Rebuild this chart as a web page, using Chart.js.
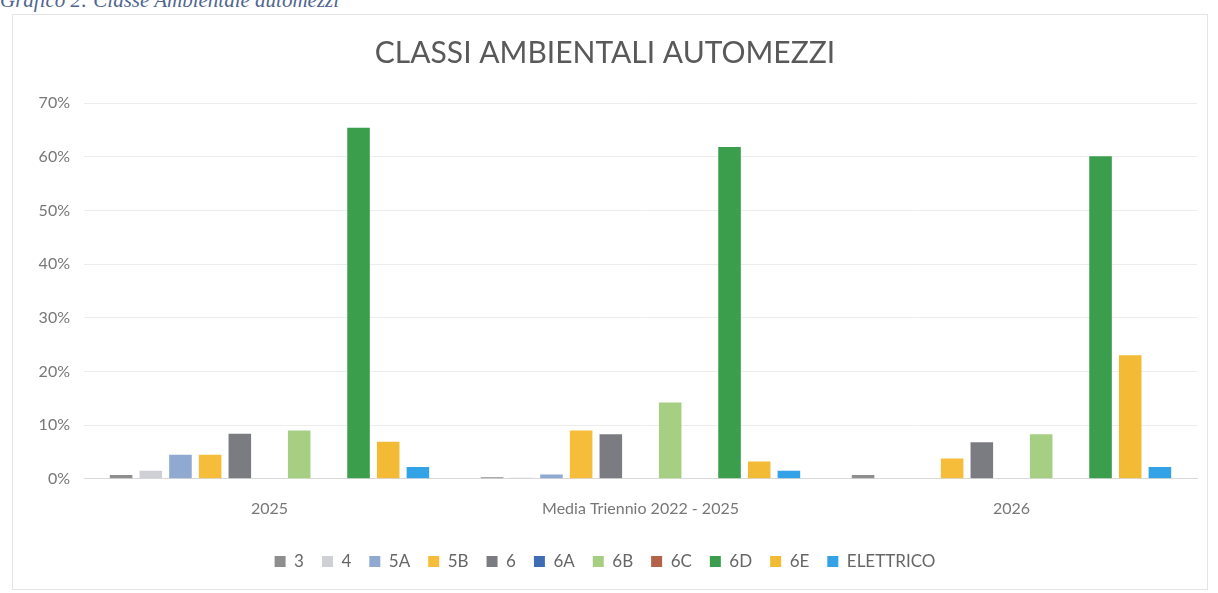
<!DOCTYPE html>
<html>
<head>
<meta charset="utf-8">
<script src="https://cdn.jsdelivr.net/npm/chart.js@4"></script>
<style>
  body { margin: 0; background: #fff; width: 1218px; height: 593px; overflow: hidden; position: relative; }
  #caption { position: absolute; left: 0px; top: -12px; font: italic 21px "Liberation Serif", serif; color: #4f6590; }
  #box { position: absolute; left: 12px; top: 14px; width: 1196px; height: 576px; border: 1px solid #e4e4e4; box-sizing: border-box; }
</style>
</head>
<body>
<div id="caption">Grafico 2: Classe Ambientale automezzi</div>
<div id="box"><canvas id="chart" width="1196" height="576"></canvas></div>
<script>
const categorie = ['2025', 'Media Triennio 2022 - 2025', '2026'];
const classi = ['3', '4', '5A', '5B', '6', '6A', '6B', '6C', '6D', '6E', 'ELETTRICO'];
const colori = ['#8e8e8e', '#cfd0d6', '#8fa9d0', '#f5bd3a', '#7b7b82', '#3e6db3', '#a6cf83', '#b4634a', '#3a9e4c', '#f3bb35', '#33a2e6'];

// valori in percentuale, uno per categoria
const v3 = [0.7, 0.3, 0.7];
const v4 = [1.5, 0.2, 0];
const v5A = [4.5, 0.8, 0];
const v5B = [4.5, 9.0, 3.8];
const v6 = [8.4, 8.3, 6.8];
const v6A = [0, 0, 0];
const v6B = [9.0, 14.2, 8.3];
const v6C = [0, 0, 0];
const v6D = [65.4, 61.8, 60.1];
const v6E = [6.9, 3.2, 23.0];
const vElettrico = [2.2, 1.5, 2.2];

const yTicks = [0, 10, 20, 30, 40, 50, 60, 70];

const serie = [v3, v4, v5A, v5B, v6, v6A, v6B, v6C, v6D, v6E, vElettrico];
const fontBase = "Lato, 'Open Sans', sans-serif";

new Chart(document.getElementById('chart'), {
  type: 'bar',
  data: {
    labels: categorie,
    datasets: serie.map((dati, i) => ({
      label: classi[i],
      data: dati,
      backgroundColor: colori[i],
      categoryPercentage: 0.88,
      barPercentage: 0.76
    }))
  },
  options: {
    responsive: false,
    animation: false,
    layout: { padding: { top: 20, right: 12, left: 0, bottom: 11 } },
    plugins: {
      title: {
        display: true,
        text: 'CLASSI AMBIENTALI AUTOMEZZI',
        color: '#595959',
        font: { family: fontBase, size: 30, weight: 'normal' },
        padding: { top: 0, bottom: 32 }
      },
      legend: {
        position: 'bottom',
        labels: {
          color: '#666',
          font: { family: fontBase, size: 17 },
          boxWidth: 11,
          boxHeight: 11,
          padding: 18
        }
      },
      tooltip: { enabled: false }
    },
    scales: {
      x: {
        grid: { display: false },
        border: { color: '#d9d9d9' },
        afterFit: (s) => { s.height += 5; },
        ticks: { color: '#777', font: { family: fontBase, size: 16 }, padding: 12 }
      },
      y: {
        min: 0,
        max: 70,
        afterBuildTicks: (s) => { s.ticks = yTicks.map(v => ({ value: v })); },
        afterFit: (s) => { s.width = 71; },
        grid: { color: '#ececec', drawTicks: false },
        border: { display: false },
        ticks: { color: '#777', font: { family: fontBase, size: 16 }, padding: 14, callback: v => v + '%' }
      }
    }
  }
});
</script>
</body>
</html>
